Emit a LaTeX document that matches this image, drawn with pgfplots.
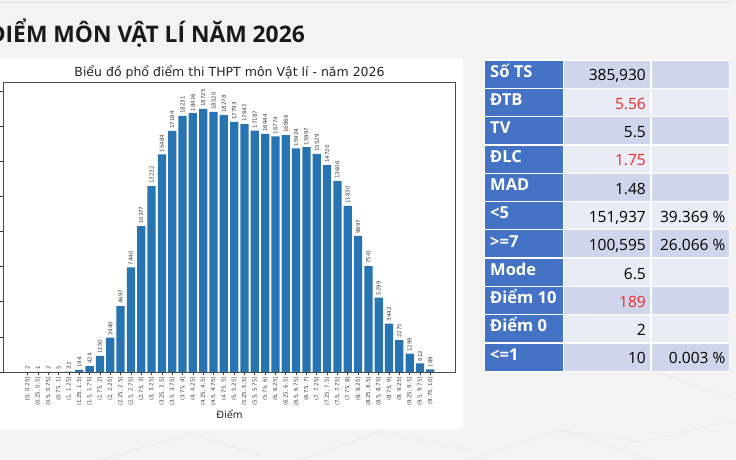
\documentclass[border=0pt]{standalone}
\usepackage{pgfplots}
\usepackage{pgfplotstable}
\pgfplotsset{compat=1.18}
\usepackage{fontspec}
\setmainfont{DejaVu Sans}
\newfontfamily\opensans{Open Sans}

\definecolor{pagebg}{HTML}{F3F3F3}
\definecolor{rulegray}{HTML}{DCDCDC}
\definecolor{faint}{HTML}{E6E6E6}
\definecolor{barblue}{HTML}{2874B2}
\definecolor{hdrblue}{HTML}{4472C4}
\definecolor{rowdark}{HTML}{CFD5EA}
\definecolor{rowlight}{HTML}{E9EBF5}
\definecolor{valred}{HTML}{F02828}

% Score distribution: number of candidates per 0.25-point bin
\pgfplotstableread{
idx n
0 2
1 1
2 2
3 5
4 32
5 144
6 424
7 1150
8 2440
9 4697
10 7440
11 10377
12 13232
13 15484
14 17164
15 18231
16 18416
17 18725
18 18520
19 18278
20 17793
21 17642
22 17187
23 16944
24 16774
25 16866
26 15924
27 15997
28 15529
29 14720
30 13606
31 11830
32 9697
33 7541
34 5299
35 3442
36 2275
37 1299
38 612
39 189
}\histdata

\begin{document}
\begin{tikzpicture}[x=1pt,y=1pt]
\useasboundingbox (0,0) rectangle (736,460);
\clip (0,0) rectangle (736,460);
\fill[pagebg] (0,0) rectangle (736,460);
\draw[rulegray, line width=1.2] (0,457.3) -- (730,457.3);

% faint background lattice
\begin{scope}[faint, line width=0.6]
\draw (470,0) -- (560,30) -- (650,0);
\draw (560,30) -- (640,18) -- (736,40);
\draw (300,0) -- (380,28) -- (470,10);
\draw (100,0) -- (190,26) -- (260,5);
\draw (650,90) -- (736,60);
\draw (660,250) -- (736,230);
\end{scope}

% white chart panel
\fill[white] (0,31) rectangle (463,402);

% page heading
\node[anchor=base east, inner sep=0, font=\opensans\bfseries\fontsize{22.8}{25}\selectfont, text=black!90]
  at (305,417.3) {ĐIỂM MÔN VẬT LÍ NĂM 2026};

% chart title and axis label
\node[anchor=base, inner sep=0, font=\fontsize{12.5}{14}\selectfont, text=black!85]
  at (229.5,383.5) {Biểu đồ phổ điểm thi THPT môn Vật lí - năm 2026};
\node[anchor=base, inner sep=0, font=\fontsize{10}{12}\selectfont, text=black!85]
  at (229.5,41) {Điểm};

\begin{axis}[
  at={(3pt,88pt)}, anchor=south west,
  scale only axis, width=452pt, height=290pt,
  xmin=-2.39, xmax=41.39, ymin=0, ymax=20640,
  axis line style={black!70, line width=0.8pt},
  tick align=outside, xtick pos=bottom, ytick pos=left,
  major tick length=3.5pt,
  tick style={black!80, line width=0.7pt},
  ytick={0,2500,...,20000}, yticklabels={}, scaled y ticks=false,
  xtick=data,
  xticklabels={{[0, 0.25]},{(0.25, 0.5]},{(0.5, 0.75]},{(0.75, 1]},{(1, 1.25]},{(1.25, 1.5]},{(1.5, 1.75]},{(1.75, 2]},{(2, 2.25]},{(2.25, 2.5]},{(2.5, 2.75]},{(2.75, 3]},{(3, 3.25]},{(3.25, 3.5]},{(3.5, 3.75]},{(3.75, 4]},{(4, 4.25]},{(4.25, 4.5]},{(4.5, 4.75]},{(4.75, 5]},{(5, 5.25]},{(5.25, 5.5]},{(5.5, 5.75]},{(5.75, 6]},{(6, 6.25]},{(6.25, 6.5]},{(6.5, 6.75]},{(6.75, 7]},{(7, 7.25]},{(7.25, 7.5]},{(7.5, 7.75]},{(7.75, 8]},{(8, 8.25]},{(8.25, 8.5]},{(8.5, 8.75]},{(8.75, 9]},{(9, 9.25]},{(9.25, 9.5]},{(9.5, 9.75]},{(9.75, 10]}},
  xticklabel style={rotate=90, anchor=east, font=\fontsize{5.5}{6}\selectfont, text=black!75, inner sep=1.5pt},
  ybar, bar width=0.8,
  /pgf/number format/assume math mode=true,
  nodes near coords={\pgfmathprintnumber[fixed,precision=0,1000 sep={}]{\pgfplotspointmeta}},
  every node near coord/.append style={rotate=90, anchor=west, font=\fontsize{5.5}{6}\selectfont, text=black!75, inner sep=2pt},
]
\addplot[fill=barblue, draw=none] table[x=idx, y=n] {\histdata};
\end{axis}

% statistics table
\foreach \lab/\val/\pct/\vcol [count=\i from 0] in {
  {Số TS}/{385,930}/{}/black,
  {ĐTB}/{5.56}/{}/valred,
  {TV}/{5.5}/{}/black,
  {ĐLC}/{1.75}/{}/valred,
  {MAD}/{1.48}/{}/black,
  {<5}/{151,937}/{39.369 \%}/black,
  {>=7}/{100,595}/{26.066 \%}/black,
  {Mode}/{6.5}/{}/black,
  {Điểm 10}/{189}/{}/valred,
  {Điểm 0}/{2}/{}/black,
  {<=1}/{10}/{0.003 \%}/black}
{
  \pgfmathsetmacro\yt{400-28.3*\i}
  \pgfmathsetmacro\yb{\yt-28.3}
  \pgfmathtruncatemacro\odd{mod(\i,2)}
  \ifnum\odd=1 \def\cc{rowlight}\else\def\cc{rowdark}\fi
  \fill[hdrblue] (484.7,\yb) rectangle (563.8,\yt);
  \fill[\cc] (563.8,\yb) rectangle (729.8,\yt);
  \node[anchor=base west, inner sep=0, text=white, font=\opensans\bfseries\fontsize{16.5}{18}\selectfont]
    at (490,\yt-17.3) {\lab};
  \node[anchor=base east, inner sep=0, text=\vcol, font=\opensans\fontsize{15.5}{17}\selectfont]
    at (646,\yt-21) {\val};
  \node[anchor=base east, inner sep=0, text=black, font=\opensans\fontsize{15.5}{17}\selectfont]
    at (725.5,\yt-21) {\pct};
}
\begin{scope}[white, line width=1.3]
\foreach \xx in {484.7,563.8,651,729.8} \draw (\xx,89) -- (\xx,400.6);
\foreach \i in {0,...,11} \draw (484.1,400-28.3*\i) -- (730.4,400-28.3*\i);
\end{scope}
\end{tikzpicture}
\end{document}
